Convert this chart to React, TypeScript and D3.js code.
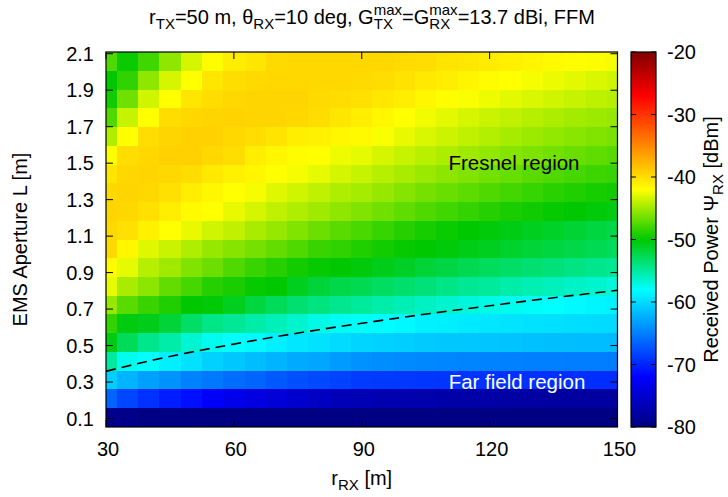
import React from "react";
import * as d3 from "d3";

// ---- data ----
const rRX = [30, 35, 40, 45, 50, 55, 60, 65, 70, 75, 80, 85, 90, 95, 100, 105, 110, 115, 120, 125, 130, 135, 140, 145, 150];
// aperture values (row centres), top row first
const apertureL = [2.058, 1.955, 1.852, 1.749, 1.647, 1.544, 1.441, 1.338, 1.236, 1.133, 1.030, 0.927, 0.825, 0.722, 0.619, 0.516, 0.414, 0.311, 0.208, 0.105];
// received power [dBm], one row per aperture value, one column per rRX
const power = [
  [-47.5, -49.7, -48.0, -45.5, -43.3, -41.8, -41.0, -40.5, -39.8, -39.7, -39.7, -39.7, -39.7, -39.7, -39.9, -40.0, -40.4, -40.6, -40.9, -41.1, -41.4, -41.7, -41.9, -42.1, -42.3],
  [-50.0, -48.5, -45.5, -43.3, -42.0, -40.5, -40.0, -39.8, -39.7, -39.7, -39.7, -39.7, -39.8, -40.0, -40.3, -40.7, -41.0, -41.4, -41.8, -42.0, -42.3, -42.6, -42.9, -43.2, -43.5],
  [-49.5, -46.5, -43.5, -42.0, -40.5, -40.0, -39.7, -39.5, -39.5, -39.5, -39.8, -40.0, -40.2, -40.6, -41.0, -41.5, -41.9, -42.2, -42.5, -42.9, -43.2, -43.5, -43.8, -44.1, -44.3],
  [-47.5, -43.8, -42.0, -40.0, -39.7, -39.5, -39.4, -39.5, -39.5, -39.7, -40.0, -40.5, -41.0, -41.5, -42.0, -42.4, -42.9, -43.3, -43.7, -44.0, -44.3, -44.6, -44.9, -45.1, -45.3],
  [-44.5, -42.0, -40.0, -39.5, -39.3, -39.3, -39.7, -40.0, -40.4, -41.0, -41.2, -41.5, -41.7, -42.2, -42.7, -43.2, -43.6, -44.0, -44.4, -44.8, -45.1, -45.4, -45.7, -46.0, -46.2],
  [-42.0, -40.0, -39.7, -39.3, -39.3, -39.7, -40.0, -41.0, -41.5, -41.8, -42.0, -42.5, -42.8, -43.3, -43.8, -44.2, -44.6, -45.0, -45.4, -45.8, -46.1, -46.4, -46.7, -47.0, -47.3],
  [-40.5, -39.7, -39.5, -39.7, -40.0, -40.7, -41.2, -41.5, -42.0, -42.3, -42.8, -43.3, -43.8, -44.3, -44.7, -45.2, -45.6, -46.0, -46.4, -46.8, -47.2, -47.5, -47.8, -48.1, -48.3],
  [-39.7, -39.5, -39.7, -40.2, -41.0, -41.5, -42.0, -42.3, -43.0, -43.5, -44.0, -44.5, -44.8, -45.3, -45.8, -46.3, -46.7, -47.1, -47.5, -47.9, -48.3, -48.7, -49.0, -49.3, -49.5],
  [-39.5, -39.7, -40.2, -41.0, -41.7, -42.0, -42.7, -43.3, -44.0, -44.5, -45.0, -45.5, -46.0, -46.5, -47.0, -47.5, -48.0, -48.4, -48.8, -49.2, -49.5, -49.8, -50.0, -50.3, -50.6],
  [-39.7, -40.2, -41.2, -42.0, -42.7, -43.5, -44.0, -44.7, -45.3, -46.0, -46.6, -47.2, -47.7, -48.3, -48.8, -49.3, -49.7, -50.0, -50.3, -50.6, -51.0, -51.3, -51.6, -52.0, -52.3],
  [-39.7, -41.5, -43.0, -43.7, -44.5, -45.3, -45.8, -46.3, -46.9, -47.5, -48.2, -48.5, -49.0, -49.4, -49.8, -50.0, -50.3, -50.7, -51.0, -51.4, -51.7, -52.0, -52.3, -52.6, -52.9],
  [-41.7, -42.8, -44.3, -45.0, -46.0, -46.6, -47.5, -48.2, -48.8, -49.4, -49.8, -50.0, -50.3, -50.8, -51.2, -51.7, -52.1, -52.5, -52.9, -53.2, -53.5, -53.8, -54.1, -54.4, -54.6],
  [-42.8, -44.7, -45.6, -46.9, -47.8, -48.8, -49.2, -49.8, -50.0, -51.0, -51.8, -52.3, -52.6, -53.0, -53.4, -53.8, -54.2, -54.6, -54.9, -55.3, -55.6, -55.9, -56.2, -56.5, -56.8],
  [-45.3, -47.2, -48.2, -49.0, -50.0, -50.2, -51.0, -52.0, -52.8, -53.5, -54.0, -54.5, -54.9, -55.3, -55.7, -56.1, -56.5, -56.9, -57.2, -57.5, -57.8, -58.0, -58.3, -58.5, -58.7],
  [-48.4, -50.5, -50.8, -51.8, -53.2, -54.2, -54.7, -55.3, -55.8, -56.5, -57.2, -57.6, -57.8, -58.1, -58.4, -58.7, -58.9, -59.1, -59.3, -59.5, -59.6, -59.7, -59.8, -59.9, -60.0],
  [-50.5, -52.8, -54.4, -55.3, -56.6, -57.5, -58.0, -58.3, -58.8, -59.3, -59.6, -60.0, -60.3, -60.5, -60.7, -60.9, -61.0, -61.1, -61.2, -61.3, -61.4, -61.5, -61.6, -61.6, -61.7],
  [-55.0, -57.5, -58.0, -58.8, -59.6, -60.5, -61.0, -61.6, -62.1, -62.6, -62.9, -63.5, -64.0, -64.2, -64.4, -64.5, -64.6, -64.7, -64.8, -64.9, -65.0, -65.0, -65.1, -65.1, -65.2],
  [-60.7, -62.1, -63.2, -64.0, -64.9, -65.4, -66.0, -66.5, -67.1, -67.6, -68.0, -68.4, -68.7, -68.8, -68.9, -69.0, -69.1, -69.2, -69.3, -69.3, -69.4, -69.4, -69.5, -69.5, -69.6],
  [-66.5, -68.2, -69.3, -70.4, -71.2, -72.3, -73.3, -73.9, -74.5, -75.1, -75.8, -76.4, -76.7, -76.9, -77.1, -77.2, -77.4, -77.5, -77.6, -77.7, -77.8, -77.9, -78.0, -78.0, -78.1],
  [-79.2, -79.5, -79.7, -79.7, -79.7, -79.8, -79.8, -79.8, -79.8, -79.8, -79.9, -79.9, -79.9, -79.9, -79.9, -79.9, -79.9, -79.9, -79.9, -79.9, -79.9, -79.9, -79.9, -79.9, -79.9],
];
// boundary between Fresnel and far field region
const boundaryR = [30, 40, 50, 60, 70, 80, 90, 100, 110, 120, 130, 140, 150];
const boundaryL = [0.359, 0.415, 0.464, 0.508, 0.549, 0.587, 0.622, 0.656, 0.688, 0.718, 0.748, 0.776, 0.803];

const xTicks = [30, 60, 90, 120, 150];
const yTicks = [0.1, 0.3, 0.5, 0.7, 0.9, 1.1, 1.3, 1.5, 1.7, 1.9, 2.1];
const cbTicks = [-80, -70, -60, -50, -40, -30, -20];
const paletteStops = [-80, -72, -58, -50, -42, -27, -20];
const paletteColors = ["#000080", "#0000ff", "#00ffff", "#00c800", "#ffff00", "#ff0000", "#800000"];

// ---- layout ----
const W = 728, H = 497;
const PL = 106, PR = 617.5, PT = 52, PB = 427;
const CBL = 631, CBR = 656;
const FONT = "'Liberation Sans', Arial, Helvetica, sans-serif";
const FS = 20;

export default function App() {
  const x = d3.scaleLinear().domain([30, 150]).range([PL, PR]);
  const halfL = (apertureL[0] - apertureL[1]) / 2;
  const y = d3.scaleLinear()
    .domain([apertureL[apertureL.length - 1] - halfL, apertureL[0] + halfL])
    .range([PB, PT]);
  const color = d3.scaleLinear<string>().domain(paletteStops).range(paletteColors).interpolate(d3.interpolateRgb).clamp(true);
  const cb = d3.scaleLinear().domain([-80, -20]).range([PB, PT]);
  const halfR = (rRX[1] - rRX[0]) / 2;

  const cells: JSX.Element[] = [];
  apertureL.forEach((L, i) => {
    rRX.forEach((r, j) => {
      const x0 = x(r - halfR), x1 = x(r + halfR);
      const y0 = y(L + halfL), y1 = y(L - halfL);
      cells.push(
        <rect key={`${i}-${j}`} x={x0} y={y0} width={x1 - x0 + 0.5} height={y1 - y0 + 0.5}
          fill={color(power[i][j])} />
      );
    });
  });

  const line = d3.line<number>()
    .x((_, i) => x(boundaryR[i]))
    .y((d) => y(d))
    .curve(d3.curveMonotoneX);

  const tickLen = 7;
  const gradStops = d3.range(0, 61, 1).map((k) => -80 + k);

  return (
    <svg width={W} height={H} style={{ display: "block", position: "absolute", left: 0, top: 0, background: "#fff" }}
      fontFamily={FONT}>
      <defs>
        <clipPath id="plotclip">
          <rect x={PL} y={PT} width={PR - PL} height={PB - PT} />
        </clipPath>
        <linearGradient id="cbgrad" x1="0" y1="1" x2="0" y2="0">
          {gradStops.map((v) => (
            <stop key={v} offset={(v + 80) / 60} stopColor={color(v)} />
          ))}
        </linearGradient>
      </defs>
      <rect x={0} y={0} width={W} height={H} fill="#fff" />

      {/* heatmap */}
      <g clipPath="url(#plotclip)" shapeRendering="crispEdges">{cells}</g>

      {/* boundary line */}
      <path d={line(boundaryL) || ""} fill="none" stroke="#000" strokeWidth={1.6} strokeDasharray="10,6" clipPath="url(#plotclip)" />

      {/* region labels */}
      <text x={514} y={y(1.5)} dy="0.35em" textAnchor="middle" fontSize={20.5} fill="#000">Fresnel region</text>
      <text x={517} y={y(0.3)} dy="0.35em" textAnchor="middle" fontSize={20.5} fill="#fff">Far field region</text>

      {/* ticks */}
      <g stroke="#000" strokeWidth={1}>
        {xTicks.map((t) => (
          <g key={t}>
            <line x1={x(t)} x2={x(t)} y1={PB} y2={PB - tickLen} />
            <line x1={x(t)} x2={x(t)} y1={PT} y2={PT + tickLen} />
          </g>
        ))}
        {yTicks.map((t) => (
          <g key={t}>
            <line x1={PL} x2={PL + tickLen} y1={y(t)} y2={y(t)} />
            <line x1={PR} x2={PR - tickLen} y1={y(t)} y2={y(t)} />
          </g>
        ))}
      </g>
      <rect x={PL} y={PT} width={PR - PL} height={PB - PT} fill="none" stroke="#000" strokeWidth={1.2} />

      {/* tick labels */}
      {xTicks.map((t) => (
        <text key={t} x={x(t) + 2} y={456} textAnchor="middle" fontSize={FS}>{t}</text>
      ))}
      {yTicks.map((t) => (
        <text key={t} x={94} y={y(t)} dy="0.36em" textAnchor="end" fontSize={FS}>{t.toFixed(1)}</text>
      ))}

      {/* axis titles */}
      <text x={x(90)} y={485} textAnchor="middle" fontSize={FS}>
        r<tspan fontSize={15} dy={5}>RX</tspan><tspan dy={-5}> [m]</tspan>
      </text>
      <text transform={`translate(27,${(PT + PB) / 2}) rotate(-90)`} textAnchor="middle" fontSize={FS}>EMS Aperture L [m]</text>

      {/* title */}
      <text x={372} y={24} textAnchor="middle" fontSize={FS}>
        r<tspan fontSize={15} dy={5}>TX</tspan>
        <tspan dy={-5}>=50 m, θ</tspan>
        <tspan fontSize={15} dy={5}>RX</tspan>
        <tspan dy={-5}>=10 deg, G</tspan>
        <tspan fontSize={15} dy={-9}>max</tspan>
        <tspan fontSize={15} dx={-28.3} dy={14}>TX</tspan>
        <tspan dx={9.1} dy={-5}>=G</tspan>
        <tspan fontSize={15} dy={-9}>max</tspan>
        <tspan fontSize={15} dx={-28.3} dy={14}>RX</tspan>
        <tspan dx={7.5} dy={-5}>=13.7 dBi, FFM</tspan>
      </text>

      {/* colorbar */}
      <rect x={CBL} y={PT} width={CBR - CBL} height={PB - PT} fill="url(#cbgrad)" />
      <g stroke="#000" strokeWidth={1}>
        {cbTicks.map((t) => (
          <g key={t}>
            <line x1={CBL} x2={CBL + 5} y1={cb(t)} y2={cb(t)} />
            <line x1={CBR} x2={CBR - 5} y1={cb(t)} y2={cb(t)} />
          </g>
        ))}
      </g>
      <rect x={CBL} y={PT} width={CBR - CBL} height={PB - PT} fill="none" stroke="#000" strokeWidth={1.2} />
      {cbTicks.map((t) => (
        <text key={t} x={667} y={cb(t)} dy="0.36em" textAnchor="start" fontSize={FS}>{t}</text>
      ))}
      <text transform={`translate(718,${(PT + PB) / 2}) rotate(-90)`} textAnchor="middle" fontSize={FS}>
        Received Power Ψ<tspan fontSize={15} dy={5}>RX</tspan><tspan dy={-5}> [dBm]</tspan>
      </text>
    </svg>
  );
}
